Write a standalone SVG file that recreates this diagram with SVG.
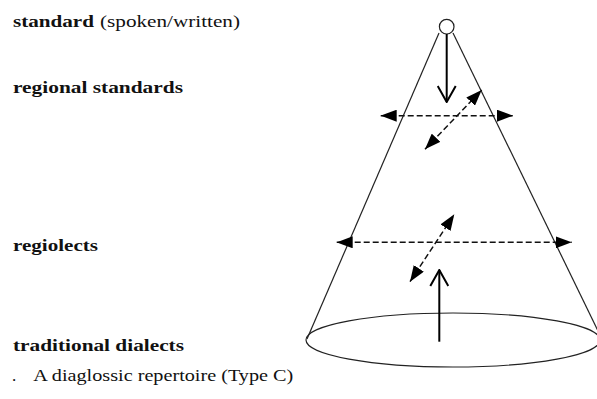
<svg xmlns="http://www.w3.org/2000/svg" width="597" height="399" viewBox="0 0 597 399">
<style>
.lbl{font-family:"Liberation Serif","Times New Roman",serif;font-size:17px;fill:#111}
.b{font-weight:bold}
.cone{fill:none;stroke:#222;stroke-width:1.2}
.solid{stroke:#000;stroke-width:2;fill:none}
.dash{stroke:#111;stroke-width:1.5;stroke-dasharray:6,3;fill:none}
</style>
<defs>
<marker id="tri" viewBox="0 0 16 12" refX="16" refY="6" markerWidth="16" markerHeight="12" markerUnits="userSpaceOnUse" orient="auto-start-reverse">
<path d="M0,0 L16,6 L0,12 Z" fill="#000"/>
</marker>
<marker id="open" viewBox="0 0 18 20" refX="17" refY="10" markerWidth="18" markerHeight="20" markerUnits="userSpaceOnUse" orient="auto">
<path d="M1,1 L17,10 L1,19" fill="none" stroke="#000" stroke-width="2"/>
</marker>
</defs>
<g id="cone">
<line class="cone" x1="439" y1="33" x2="307" y2="339"/>
<line class="cone" x1="453" y1="33" x2="601" y2="337"/>
<ellipse class="cone" cx="453" cy="340" rx="147" ry="27" fill="#fff"/>
<circle class="cone" cx="446.7" cy="26.7" r="7.3" fill="#fff"/>
</g>
<g id="connectors">
<line class="solid" x1="446.7" y1="34" x2="446.7" y2="102" marker-end="url(#open)"/>
<line class="solid" x1="439.3" y1="341.7" x2="439.3" y2="270" marker-end="url(#open)"/>
<line class="dash" x1="380.7" y1="115.7" x2="513" y2="115.7" marker-start="url(#tri)" marker-end="url(#tri)"/>
<line class="dash" x1="425" y1="149.3" x2="481.7" y2="90" marker-start="url(#tri)" marker-end="url(#tri)"/>
<line class="dash" x1="336.7" y1="242.3" x2="571.7" y2="242.3" marker-start="url(#tri)" marker-end="url(#tri)"/>
<line class="dash" x1="410" y1="281.7" x2="454.3" y2="214.3" marker-start="url(#tri)" marker-end="url(#tri)"/>
</g>
<g id="labels">
<text id="standard" class="lbl b" x="13" y="26.5" textLength="81" lengthAdjust="spacingAndGlyphs">standard</text>
<text class="lbl" x="100" y="26.5" textLength="140" lengthAdjust="spacingAndGlyphs">(spoken/written)</text>
<text id="regional-standards" class="lbl b" x="13" y="93" textLength="170" lengthAdjust="spacingAndGlyphs">regional standards</text>
<text id="regiolects" class="lbl b" x="13" y="250.7" textLength="85" lengthAdjust="spacingAndGlyphs">regiolects</text>
<text id="traditional-dialects" class="lbl b" x="13" y="350.5" textLength="171" lengthAdjust="spacingAndGlyphs">traditional dialects</text>
<text class="lbl" x="12" y="380.5">.</text>
<text id="caption" class="lbl" x="33.3" y="380.5" textLength="260" lengthAdjust="spacingAndGlyphs">A diaglossic repertoire (Type C)</text>
</g>
</svg>
